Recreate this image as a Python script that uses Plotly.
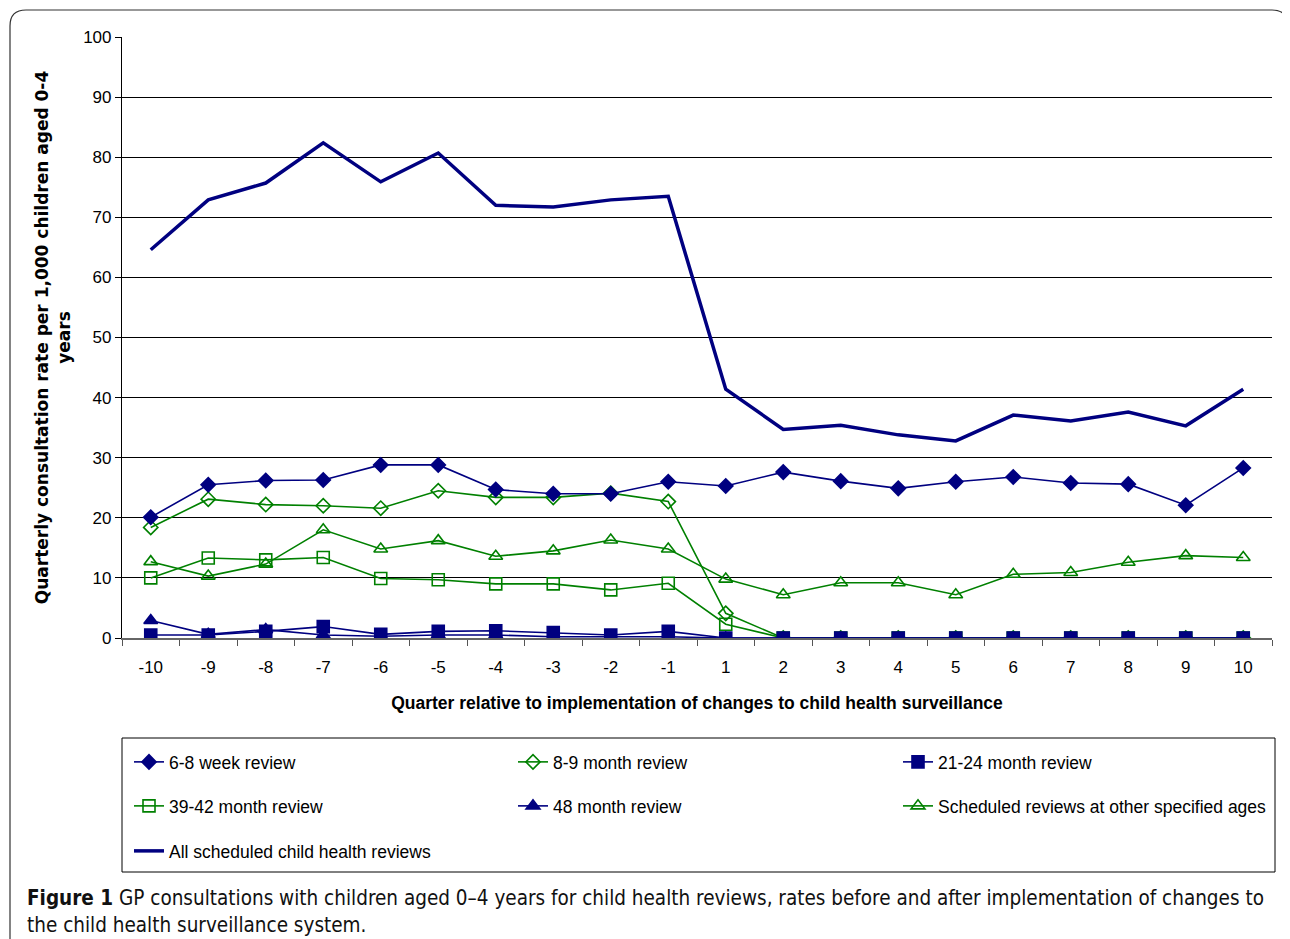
import plotly.graph_objects as go

quarters = ["-10", "-9", "-8", "-7", "-6", "-5", "-4", "-3", "-2", "-1",
            "1", "2", "3", "4", "5", "6", "7", "8", "9", "10"]

week_6_8 = [20.1, 25.5, 26.2, 26.3, 28.8, 28.8, 24.7, 24.0, 24.0, 26.0,
            25.3, 27.6, 26.1, 24.9, 26.0, 26.8, 25.8, 25.6, 22.1, 28.3]
month_8_9 = [18.4, 23.1, 22.2, 22.0, 21.6, 24.5, 23.4, 23.4, 24.1, 22.7,
             4.1, 0, 0, 0, 0, 0, 0, 0, 0, 0]
month_21_24 = [0.5, 0.5, 1.1, 1.9, 0.6, 1.1, 1.2, 0.9, 0.5, 1.1,
               0, 0, 0, 0, 0, 0, 0, 0, 0, 0]
month_39_42 = [10.0, 13.3, 13.0, 13.4, 9.9, 9.7, 9.0, 9.0, 8.0, 9.1,
               2.3, 0, 0, 0, 0, 0, 0, 0, 0, 0]
month_48 = [2.9, 0.6, 1.4, 0.5, 0.3, 0.5, 0.5, 0.2, 0.2, 0.2,
            0, 0, 0, 0, 0, 0, 0, 0, 0, 0]
other_ages = [12.7, 10.3, 12.3, 18.0, 14.8, 16.2, 13.6, 14.5, 16.3, 14.8,
              9.8, 7.2, 9.2, 9.2, 7.2, 10.6, 10.9, 12.6, 13.7, 13.4]
all_reviews = [64.6, 72.9, 75.7, 82.4, 75.9, 80.7, 72.0, 71.7, 72.9, 73.5,
               41.4, 34.7, 35.4, 33.8, 32.8, 37.1, 36.1, 37.6, 35.3, 41.4]

NAVY = "#000080"
GREEN = "#008000"
FONT = "Liberation Sans, Arial, sans-serif"

# page body has an 8px margin; figure sized so it ends at the window edge
OFF = 8
W, H = 1290 - OFF, 939 - OFF
# plot area in page pixels
L, R, T, B = 122, 1272, 37, 638


def px(xp):
    return (xp - L) / (R - L)


def py(yp):
    return (B - yp) / (B - T)


fig = go.Figure()


def add(name, y, color, symbol, size, legend, width=1.6, mode="lines+markers"):
    fig.add_trace(go.Scatter(
        x=quarters, y=y, name=name, mode=mode,
        line=dict(color=color, width=width),
        marker=dict(symbol=symbol, size=size, color=color,
                    line=dict(color=color, width=1.6)),
        legend=legend,
    ))


add("Scheduled reviews at other specified ages", other_ages, GREEN, "triangle-up-open", 12, "legend6")
add("39-42 month review", month_39_42, GREEN, "square-open", 12, "legend4")
add("8-9 month review", month_8_9, GREEN, "diamond-open", 11, "legend2")
add("6-8 week review", week_6_8, NAVY, "diamond", 11, "legend")
add("48 month review", month_48, NAVY, "triangle-up", 12, "legend5")
add("21-24 month review", month_21_24, NAVY, "square", 12, "legend3")
add("All scheduled child health reviews", all_reviews, NAVY, "circle", 1, "legend7",
    width=3.5, mode="lines")

leg_common = dict(orientation="h", xanchor="left", yanchor="middle",
                  bgcolor="rgba(0,0,0,0)", borderwidth=0,
                  font=dict(family=FONT, size=17.5, color="black"))

col_x = [129, 513, 898]
row_y = [762, 806, 851]
legend_pos = {
    "legend": (col_x[0], row_y[0]),
    "legend2": (col_x[1], row_y[0]),
    "legend3": (col_x[2], row_y[0]),
    "legend4": (col_x[0], row_y[1]),
    "legend5": (col_x[1], row_y[1]),
    "legend6": (col_x[2], row_y[1]),
    "legend7": (col_x[0], row_y[2]),
}
legends = {k: dict(x=px(x), y=py(y), **leg_common) for k, (x, y) in legend_pos.items()}

shapes = [
    dict(type="rect", xref="paper", yref="paper",
         x0=px(122), x1=px(1275), y0=py(738), y1=py(872),
         line=dict(color="black", width=1), fillcolor="rgba(0,0,0,0)"),
    dict(type="path", xref="paper", yref="paper",
         path=(f"M {px(10)},{py(950)} L {px(10)},{py(26)} "
               f"Q {px(10)},{py(10)} {px(26)},{py(10)} "
               f"L {px(1272)},{py(10)} Q {px(1288)},{py(10)} {px(1288)},{py(26)} "
               f"L {px(1288)},{py(950)}"),
         line=dict(color="#333333", width=1.2)),
]

cap_font = dict(family="Liberation Sans Narrow, DejaVu Sans Condensed, sans-serif",
                size=20.5, color="#111111")
annotations = [
    dict(xref="paper", yref="paper", x=px(25), y=py(898), xanchor="left", yanchor="middle",
         showarrow=False, font=cap_font, align="left",
         text="<b>Figure 1</b> GP consultations with children aged 0\u20134 years for child health reviews, "
              "rates before and after implementation of changes to"),
    dict(xref="paper", yref="paper", x=px(25), y=py(925), xanchor="left", yanchor="middle",
         showarrow=False, font=cap_font, align="left",
         text="the child health surveillance system."),
]

fig.update_layout(
    width=W, height=H,
    margin=dict(l=L - OFF, r=(W + OFF) - R, t=T - OFF, b=(H + OFF) - B, pad=0),
    paper_bgcolor="white", plot_bgcolor="white",
    font=dict(family=FONT, size=17, color="black"),
    showlegend=True,
    shapes=shapes,
    annotations=annotations,
    xaxis=dict(
        type="category", range=[-0.5, 19.5],
        tickson="boundaries", ticks="outside", ticklen=6, tickcolor="#555555",
        ticklabelstandoff=13,
        showline=True, linecolor="#666666", linewidth=2,
        showgrid=False, zeroline=False,
        tickfont=dict(family=FONT, size=17, color="black"),
        title=dict(text="<b>Quarter relative to implementation of changes to child health surveillance</b>",
                   font=dict(family=FONT, size=17.5, color="black"), standoff=20),
    ),
    yaxis=dict(
        range=[0, 100], dtick=10, tick0=0,
        ticks="outside", ticklen=6, tickcolor="black",
        showline=True, linecolor="black", linewidth=1.2,
        showgrid=True, gridcolor="black", gridwidth=1,
        zeroline=False,
        tickfont=dict(family=FONT, size=17, color="black"),
        title=dict(text="<b>Quarterly consultation rate per 1,000 children aged 0-4<br>years</b>",
                   font=dict(family="DejaVu Sans, sans-serif", size=17, color="black"), standoff=8),
    ),
    **legends,
)

fig.write_html("out.html")
